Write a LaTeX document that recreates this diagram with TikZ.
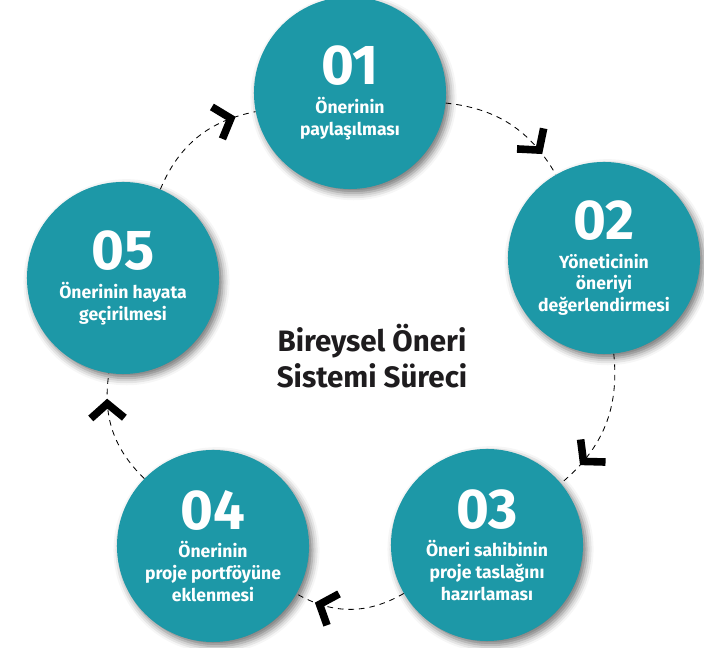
\documentclass[tikz,border=0pt]{standalone}
\usepackage{fontspec}
\setmainfont{Fira Sans}
\usetikzlibrary{arrows.meta,decorations.markings,shadows.blur}

\definecolor{stageteal}{RGB}{29,152,167}
\definecolor{titleink}{RGB}{30,28,30}

\tikzset{
  stage/.style={circle, fill=stageteal, minimum size=4.8cm, inner sep=0pt,
    text=white, align=center, font=\bfseries\fontsize{12.5}{15.5}\selectfont,
    blur shadow={shadow xshift=2.5pt, shadow yshift=-3pt,
      shadow blur radius=5pt, shadow opacity=55}},
  flow/.style={dash pattern=on 4pt off 3.5pt, line width=0.6pt,
    decoration={markings, mark=at position #1 with
      {\arrow{Straight Barb[length=3.6mm, width=8.4mm, line width=1.9mm]}}},
    postaction={decorate}},
  flow/.default=0.82
}
\newcommand{\stagenum}[1]{{\fontsize{40}{44}\selectfont #1}}

\begin{document}
\begin{tikzpicture}[x=0.025cm, y=0.025cm]
        \useasboundingbox (0,0) rectangle (704,648);

        % the five steps
        \node[stage] (c1) at (350,555) {\stagenum{01}\\[5pt] Önerinin\\ paylaşılması};
        \node[stage] (c2) at (604,390) {\stagenum{02}\\[5pt] Yöneticinin\\ öneriyi\\ değerlendirmesi};
        \node[stage] (c3) at (487,103) {\stagenum{03}\\[5pt] Öneri sahibinin\\ proje taslağını\\ hazırlaması};
        \node[stage] (c4) at (213,102) {\stagenum{04}\\[5pt] Önerinin\\ proje portföyüne\\ eklenmesi};
        \node[stage] (c5) at (123,370) {\stagenum{05}\\[5pt] Önerinin hayata\\ geçirilmesi};

        \node[font=\bfseries\fontsize{21}{26}\selectfont, text=titleink, align=center] (title)
            at (372,292) {Bireysel Öneri\\ Sistemi Süreci};

        % dashed cycle
        \draw[flow] (c1) to[bend left=27] (c2);
        \draw[flow] (c2) to[bend left=28] (c3);
        \draw[flow] (c3) to[bend left=30] (c4);
        \draw[flow=0.78] (c4) to[bend left=27] (c5);
        \draw[flow=0.84] (c5) to[bend left=28] (c1);
    \end{tikzpicture}
\end{document}
